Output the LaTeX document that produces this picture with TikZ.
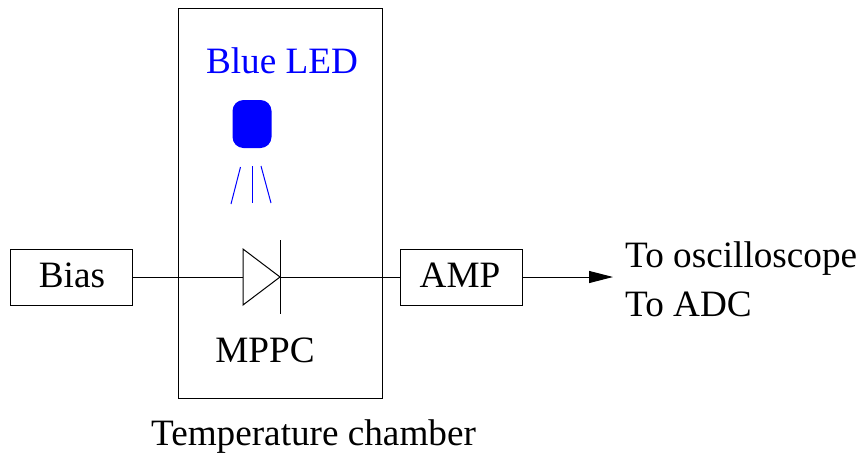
\documentclass[tikz,border=0pt]{standalone}
\usepackage{fontspec}
\setmainfont{Liberation Serif}
\usetikzlibrary{arrows.meta}
\definecolor{ledblue}{RGB}{0,0,255}
\tikzset{
  boxnode/.style={draw, line width=1pt, minimum width=122pt, minimum height=56pt, inner sep=0pt},
  txt/.style={inner sep=0pt, font=\fontsize{37.2}{37.2}\selectfont},
  ray/.style={ledblue, line width=1pt}
}
\begin{document}
\begin{tikzpicture}[x=1pt,y=-1pt]
\useasboundingbox (0,0) rectangle (859,453);
\node[draw, line width=1pt, minimum width=204pt, minimum height=390pt, inner sep=0pt] (chamber) at (280,203) {};
\node[boxnode] (bias) at (71,277) {};
\node[boxnode] (amp) at (461,277) {};
\node[txt] (biaslabel) at (72,275) {Bias};
\node[txt] (amplabel) at (460,275) {AMP};
\node[txt, text=ledblue] (ledlabel) at (282,61) {Blue LED};
\node[fill=ledblue, rounded corners=11pt, minimum width=39pt, minimum height=48pt, inner sep=0pt] (led) at (252,124) {};
\coordinate (r1a) at (240.5,167);
\coordinate (r1b) at (231,204);
\coordinate (r2a) at (252,166);
\coordinate (r2b) at (252,203);
\coordinate (r3a) at (261,166);
\coordinate (r3b) at (271,203);
\draw[ray] (r1a) -- (r1b);
\draw[ray] (r2a) -- (r2b);
\draw[ray] (r3a) -- (r3b);
\coordinate (dtl) at (243,249);
\coordinate (dbl) at (243,305);
\coordinate (dtip) at (280,277);
\coordinate (bartop) at (280,240);
\coordinate (barbot) at (280,314);
\draw[line width=1pt] (dtl) -- (dbl) -- (dtip) -- cycle;
\draw[line width=1pt] (bartop) -- (barbot);
\draw[line width=1pt] (bias.east) -- (dtl |- bias.east);
\draw[line width=1pt] (dtip) -- (amp.west);
\coordinate (out) at (613,277);
\draw[line width=1pt, -{Triangle[length=24pt,width=12pt]}] (amp.east) -- (out);
\node[txt] (mppc) at (265,350) {MPPC};
\node[txt, anchor=west] (osc) at (625,259) {To oscilloscope};
\node[txt, anchor=west] (adc) at (625,304) {To ADC};
\node[txt] (tchamber) at (313.5,437) {Temperature chamber};
\end{tikzpicture}
\end{document}
